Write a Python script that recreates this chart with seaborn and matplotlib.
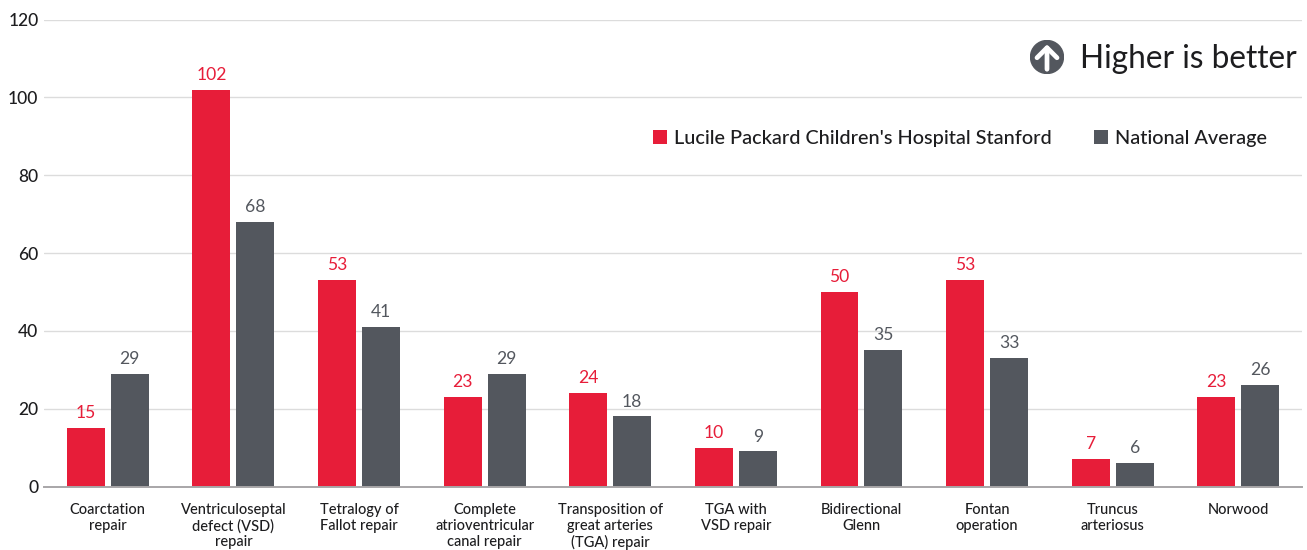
import pandas as pd
import matplotlib
matplotlib.use("Agg")
import matplotlib.pyplot as plt
import seaborn as sns

categories = [
    "Coarctation\nrepair",
    "Ventriculoseptal\ndefect (VSD)\nrepair",
    "Tetralogy of\nFallot repair",
    "Complete\natrioventricular\ncanal repair",
    "Transposition of\ngreat arteries\n(TGA) repair",
    "TGA with\nVSD repair",
    "Bidirectional\nGlenn",
    "Fontan\noperation",
    "Truncus\narteriosus",
    "Norwood",
]
stanford = [15, 102, 53, 23, 24, 10, 50, 53, 7, 23]
national = [29, 68, 41, 29, 18, 9, 35, 33, 6, 26]
series_names = ["Lucile Packard Children's Hospital Stanford", "National Average"]
y_ticks = [0, 20, 40, 60, 80, 100, 120]

RED = "#e71d39"
GRAY = "#53575e"
INK = "#1d1d1f"

sns.set_theme(style="white")
plt.rcParams['font.family'] = ['Lato', 'DejaVu Sans']

df = pd.DataFrame({
    "procedure": categories * 2,
    "value": stanford + national,
    "series": [series_names[0]] * len(stanford) + [series_names[1]] * len(national),
})

W, H = 1307, 550
fig = plt.figure(figsize=(W / 100, H / 100), dpi=100)
ax = fig.add_axes([44 / W, 1 - 486.5 / H, 1258 / W, 467 / H])

sns.barplot(data=df, x="procedure", y="value", hue="series",
            palette=[RED, GRAY], width=0.7, gap=0.136, saturation=1,
            linewidth=0, legend=True, ax=ax)

ax.set_xlim(-0.508, 9.507)
ax.set_ylim(0, 120)
ax.set_yticks(y_ticks)
ax.set_xlabel("")
ax.set_ylabel("")
ax.set_axisbelow(True)
ax.yaxis.grid(True, color="#dcdcdc", linewidth=1)
ax.xaxis.grid(False)
sns.despine(ax=ax, left=True, top=True, right=True)
ax.spines['bottom'].set_color("#a8a6a8")
ax.spines['bottom'].set_linewidth(1.4)
ax.tick_params(axis='x', length=0, pad=12, labelsize=10.5, labelcolor=INK)
ax.tick_params(axis='y', length=0, pad=4, labelsize=12.5, labelcolor=INK)
for lab in ax.get_xticklabels():
    lab.set_linespacing(1.16)
    lab.set_fontweight("medium")
for lab in ax.get_yticklabels():
    lab.set_fontweight("medium")

# value labels over the bars
for cont, col in zip(ax.containers, [RED, GRAY]):
    ax.bar_label(cont, padding=5, color=col, fontsize=12.6)

# legend
handles, labels = ax.get_legend_handles_labels()
ax.legend(handles, labels, ncol=2, frameon=False, loc="center left",
          bbox_to_anchor=(609 / 1258, 1 - 119 / 467),
          prop=dict(family=['Lato', 'DejaVu Sans'], size=14.3, weight="medium"),
          handlelength=0.72, handleheight=0.72, handletextpad=0.36,
          columnspacing=2.1, borderpad=0, borderaxespad=0,
          labelcolor=INK)

# "higher is better" badge
fig.text(1080 / W, 1 - 59 / H, "Higher is better", fontsize=22.8,
         color=INK, va="center", ha="left")
badge = fig.add_axes([1030 / W, 1 - 74 / H, 34 / W, 34 / H])
badge.set_xlim(-1, 1)
badge.set_ylim(-1, 1)
badge.axis("off")
badge.add_patch(plt.Circle((0, 0), 0.97, color=GRAY))
badge.annotate("", xy=(0, 0.74), xytext=(0, -0.72),
               arrowprops=dict(arrowstyle="->,head_length=0.6,head_width=0.6",
                               color="white", lw=3.4, shrinkA=0, shrinkB=0))

fig.savefig("out.png", dpi=100, facecolor="white")
plt.close(fig)
